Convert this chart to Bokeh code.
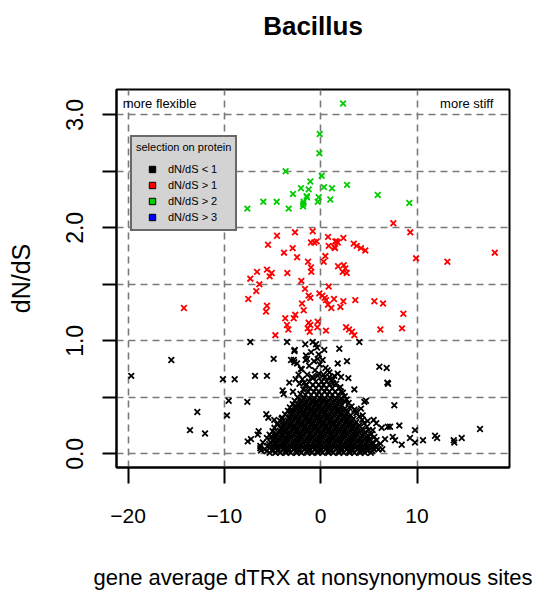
from bokeh.plotting import figure
from bokeh.models import (Range1d, FixedTicker, Label, CustomJSTickFormatter,
                          Legend, LegendItem, Title)
from bokeh.embed import file_html
from bokeh.resources import INLINE

# ---------------- data ----------------
green_x = [2.32, -0.10, -0.14, -3.64, 0.10, -1.08, -2.05, -1.25, 0.34, 1.17, 2.73, -2.88, -1.42,
           -0.21, 1.00, -1.77, -0.31, -1.84, -5.96, -4.57, -7.62, -3.32, 5.92, 9.20, -1.46, -1.81]
green_y = [3.10, 2.83, 2.66, 2.50, 2.46, 2.41, 2.35, 2.34, 2.36, 2.35, 2.38, 2.30, 2.27,
           2.27, 2.25, 2.23, 2.23, 2.19, 2.23, 2.23, 2.17, 2.17, 2.29, 2.22, 2.28, 2.21]

red_x = [-4.54, -2.67, -0.83, -5.47, -1.01, -0.66, -0.42, 0.76, 1.66, 2.35, 0.83, 1.49, -2.91,
         -3.81, -2.46, 0.48, 0.31, -1.32, -1.01, -0.98, 1.80, 2.39, 2.55, 2.28, 2.70, -5.58,
         -5.09, -5.30, -6.61, -7.31, -3.47, -6.37, -6.69, -7.52, -2.01, -1.63, -1.25, -1.08,
         -0.14, 0.17, 0.42, 0.55, 0.83, 1.38, 2.35, 2.04, 0.76, 1.10, -1.94, -1.77, -5.58,
         -5.68, -3.68, -3.50, -2.80, -2.64, -1.25, -1.08, -1.35, -1.14, -0.31, -0.35, -3.36,
         0.55, -4.71, 2.63, 2.94, 7.54, 9.30, 9.90, 13.15, 18.07, 1.52, 1.77, 1.41, 3.43, 3.74,
         4.18, 4.63, 3.59, 5.57, 6.47, 8.58, 8.44, 6.19, 3.25, 3.49, -14.20]
red_y = [1.93, 1.96, 1.97, 1.85, 1.87, 1.87, 1.88, 1.92, 1.88, 1.91, 1.84, 1.82, 1.82,
         1.78, 1.74, 1.75, 1.70, 1.70, 1.65, 1.61, 1.66, 1.67, 1.64, 1.61, 1.60, 1.63,
         1.60, 1.57, 1.61, 1.55, 1.60, 1.50, 1.44, 1.37, 1.53, 1.46, 1.40, 1.38,
         1.42, 1.40, 1.38, 1.36, 1.48, 1.37, 1.35, 1.30, 1.32, 1.29, 1.33, 1.27, 1.31,
         1.26, 1.20, 1.14, 1.20, 1.23, 1.16, 1.14, 1.11, 1.08, 1.17, 1.12, 1.10,
         1.09, 1.05, 1.12, 1.10, 2.04, 1.96, 1.73, 1.70, 1.78, 1.88, 1.87, 1.83, 1.86, 1.84,
         1.82, 1.80, 1.36, 1.35, 1.33, 1.24, 1.11, 1.10, 1.08, 1.05, 1.29]

# scattered black points (dN/dS < 1)
black_x = [-7.31, -15.51, -19.67, -10.15, -8.93, -6.82, -5.58, -4.88, -9.55, -7.62, -9.73, -12.81,
           -13.57, -12.01, -7.58, -7.24, -6.54, -6.44, -6.27, -6.27, -5.58, -5.44, -5.65, -4.82,
           -4.05, -3.95, -3.84, -3.26, -2.88, -3.50, -2.70, -2.80, -2.46, -1.97, -1.60, -1.56,
           -1.70, 4.01, 1.93, 2.73, 1.77, 6.09, 6.85, 6.92, 6.99, 3.49, 2.11, 2.87, 1.77, 4.53,
           4.70, 7.64, 5.50, 5.77, 6.33, 6.96, 7.20, 8.16, 9.79, 6.68, 7.48, 7.72, 8.41, 9.27,
           9.79, 10.62, 11.87, 12.08, 13.81, 13.87, 14.64, 16.54, -2.74, -3.08, -2.74, -2.05,
           -1.53, -1.42, -0.38, -0.31, -0.83, -0.49, 0.37, 0.73, 1.41, 1.07, 2.04, 2.11, 2.45,
           2.97, 3.67, 4.18, 4.36, 4.88, 5.40, 5.57, 5.40, -3.08, -2.39, -3.78, -4.47, -5.16,
           -4.64, -3.78, -2.2, -1.9, -1.4, -0.9, -0.6, -0.2, 0.4, 0.9, 1.3, -1.2, -0.7, -0.1,
           0.5, -1.0, -0.2, 0.2, -2.3, -2.6, -1.6]
black_y = [0.99, 0.83, 0.69, 0.66, 0.66, 0.69, 0.69, 0.84, 0.47, 0.46, 0.34, 0.37,
           0.21, 0.18, 0.11, 0.13, 0.17, 0.20, 0.07, 0.05, 0.14, 0.32, 0.35, 0.30,
           0.31, 0.56, 0.53, 0.63, 0.55, 0.99, 0.92, 0.83, 0.80, 0.75, 0.97, 0.83,
           0.63, 0.99, 0.93, 0.82, 0.80, 0.77, 0.76, 0.63, 0.62, 0.57, 0.68, 0.67, 0.71, 0.46,
           0.47, 0.43, 0.30, 0.27, 0.23, 0.24, 0.24, 0.25, 0.21, 0.13, 0.15, 0.12, 0.08, 0.14,
           0.10, 0.12, 0.16, 0.14, 0.12, 0.10, 0.14, 0.22, 0.91, 0.83, 0.81, 0.75,
           0.87, 0.84, 0.94, 0.84, 0.99, 0.97, 0.92, 0.74, 0.69, 0.65, 0.59, 0.55, 0.47,
           0.41, 0.38, 0.40, 0.34, 0.29, 0.21, 0.15, 0.09, 0.38, 0.44, 0.21, 0.27, 0.15,
           0.09, 0.04, 0.62, 0.66, 0.70, 0.68, 0.74, 0.71, 0.68, 0.72, 0.62, 0.78, 0.82, 0.79,
           0.76, 0.90, 0.88, 0.83, 0.70, 0.66, 0.60]

# the dense black cloud around dTRX = 0, read row by row (dN/dS level, dTRX values)
cloud_levels = [0.01, 0.04, 0.07, 0.10, 0.13, 0.16, 0.19, 0.22, 0.25, 0.28, 0.31,
                0.34, 0.37, 0.40, 0.43, 0.46, 0.49, 0.52, 0.55, 0.58, 0.61, 0.64]
cloud_rows = [
    [-5.3, -4.7, -4.2, -3.6, -3.1, -2.5, -2.0, -1.4, -0.9, -0.3, 0.2, 0.8, 1.3, 1.9, 2.4, 3.0, 3.5, 4.1, 4.6, 5.2],
    [-5.8, -5.0, -4.4, -3.9, -3.3, -2.8, -2.2, -1.7, -1.1, -0.6, 0.0, 0.5, 1.1, 1.6, 2.2, 2.7, 3.3, 3.8, 4.4, 4.9, 5.5, 6.0],
    [-5.5, -4.9, -4.3, -3.8, -3.2, -2.6, -2.1, -1.5, -1.0, -0.4, 0.1, 0.7, 1.2, 1.8, 2.3, 2.9, 3.4, 4.0, 4.5, 5.1, 5.7],
    [-5.2, -4.6, -4.0, -3.5, -2.9, -2.4, -1.8, -1.3, -0.7, -0.2, 0.4, 0.9, 1.5, 2.0, 2.6, 3.1, 3.7, 4.2, 4.8, 5.4],
    [-4.9, -4.3, -3.7, -3.2, -2.6, -2.1, -1.5, -1.0, -0.4, 0.1, 0.7, 1.2, 1.8, 2.3, 2.9, 3.4, 4.0, 4.6, 5.1],
    [-4.7, -4.0, -3.4, -2.9, -2.3, -1.8, -1.2, -0.7, -0.1, 0.4, 1.0, 1.5, 2.1, 2.6, 3.2, 3.7, 4.3, 4.9],
    [-4.4, -3.8, -3.2, -2.6, -2.1, -1.5, -1.0, -0.4, 0.1, 0.7, 1.2, 1.8, 2.4, 2.9, 3.5, 4.0, 4.6],
    [-4.1, -3.5, -2.9, -2.4, -1.8, -1.3, -0.7, -0.2, 0.4, 0.9, 1.5, 2.0, 2.6, 3.2, 3.7, 4.3],
    [-3.9, -3.2, -2.7, -2.1, -1.6, -1.0, -0.5, 0.1, 0.6, 1.2, 1.7, 2.3, 2.9, 3.4, 4.0],
    [-3.6, -3.0, -2.4, -1.9, -1.3, -0.8, -0.2, 0.3, 0.9, 1.4, 2.0, 2.6, 3.1, 3.7],
    [-3.3, -2.7, -2.2, -1.6, -1.1, -0.5, 0.0, 0.6, 1.1, 1.7, 2.3, 2.8, 3.4],
    [-3.1, -2.5, -1.9, -1.4, -0.8, -0.3, 0.3, 0.8, 1.4, 2.0, 2.5, 3.1],
    [-2.8, -2.2, -1.7, -1.1, -0.6, 0.0, 0.5, 1.1, 1.7, 2.2, 2.8],
    [-2.6, -2.0, -1.4, -0.9, -0.3, 0.2, 0.8, 1.4, 1.9, 2.5],
    [-2.3, -1.7, -1.2, -0.6, -0.1, 0.5, 1.0, 1.6, 2.2],
    [-2.1, -1.5, -0.9, -0.4, 0.2, 0.7, 1.3, 1.9],
    [-1.8, -1.2, -0.7, -0.1, 0.4, 1.0, 1.6, 2.1],
    [-1.6, -1.0, -0.4, 0.1, 0.7, 1.2, 1.8],
    [-1.3, -0.7, -0.2, 0.4, 0.9, 1.5],
    [-1.1, -0.5, 0.1, 0.6, 1.2],
    [-0.8, -0.2, 0.3, 0.9],
    [-0.5, 0.1, 0.6],
]
# more of the same cloud, between the rows above
cloud_levels_b = [0.025, 0.055, 0.085, 0.115, 0.145, 0.175, 0.205, 0.235, 0.265,
                  0.295, 0.325, 0.355, 0.385, 0.415, 0.445, 0.475]
cloud_rows_b = [
    [-5.6, -5.0, -4.45, -3.65, -3.35, -2.55, -2.25, -1.45, -1.15, -0.35, -0.05, 0.75, 1.05, 1.85, 2.15, 2.95, 3.25, 4.05, 4.35, 4.85, 5.35],
    [-5.3, -4.65, -4.15, -3.55, -3.05, -2.45, -1.95, -1.35, -0.85, -0.25, 0.3, 0.85, 1.35, 1.95, 2.45, 3.05, 3.55, 4.15, 4.65, 5.25, 5.8],
    [-5.35, -4.75, -4.15, -3.65, -3.05, -2.45, -1.95, -1.35, -0.85, -0.25, 0.25, 0.85, 1.35, 1.95, 2.45, 3.05, 3.55, 4.15, 4.65, 5.25],
    [-4.95, -4.45, -3.85, -3.35, -2.75, -2.25, -1.65, -1.15, -0.55, -0.05, 0.55, 1.05, 1.65, 2.15, 2.75, 3.25, 3.85, 4.35, 4.95],
    [-4.75, -4.15, -3.55, -3.05, -2.45, -1.95, -1.35, -0.85, -0.25, 0.25, 0.85, 1.35, 1.95, 2.45, 3.05, 3.55, 4.15, 4.75],
    [-4.55, -3.95, -3.3, -2.75, -2.2, -1.65, -1.1, -0.55, 0.0, 0.55, 1.1, 1.65, 2.25, 2.75, 3.35, 3.85, 4.45],
    [-4.25, -3.65, -3.05, -2.5, -1.95, -1.4, -0.85, -0.3, 0.25, 0.8, 1.35, 1.9, 2.5, 3.05, 3.6, 4.15],
    [-4.0, -3.35, -2.8, -2.25, -1.7, -1.15, -0.6, -0.05, 0.5, 1.05, 1.6, 2.15, 2.75, 3.3, 3.85],
    [-3.75, -3.1, -2.55, -2.0, -1.45, -0.9, -0.35, 0.2, 0.75, 1.3, 1.85, 2.45, 3.0, 3.55],
    [-3.45, -2.85, -2.3, -1.75, -1.2, -0.65, -0.1, 0.45, 1.0, 1.55, 2.15, 2.7, 3.25],
    [-3.2, -2.6, -2.05, -1.5, -0.95, -0.4, 0.15, 0.7, 1.25, 1.85, 2.4, 2.95],
    [-2.95, -2.35, -1.8, -1.25, -0.7, -0.15, 0.4, 0.95, 1.55, 2.1, 2.65],
    [-2.7, -2.1, -1.55, -1.0, -0.45, 0.1, 0.65, 1.25, 1.8, 2.35],
    [-2.45, -1.85, -1.3, -0.75, -0.2, 0.35, 0.9, 1.5, 2.05],
    [-2.2, -1.6, -1.05, -0.5, 0.05, 0.6, 1.15, 1.75],
    [-1.95, -1.35, -0.8, -0.25, 0.3, 0.85, 1.45, 2.0],
]
# points along the rounded edge of the cloud
edge_x = [-5.3, -5.0, -4.8, 5.2, 5.0, 4.8, -4.5, -4.2, -4.0, 4.5, 4.3, 4.0, -3.7, -3.4, -3.2,
          3.7, 3.5, 3.2, -2.9, -2.7, -2.4, 2.9, 2.7, 2.5, -2.1, -1.8, 2.3, 1.9, -1.5, 1.6,
          -1.2, 1.3, -0.8, 0.9, -0.3, 0.3, 5.8, 6.2, 6.4, -6.0, -6.2]
edge_y = [0.17, 0.20, 0.23, 0.17, 0.21, 0.24, 0.26, 0.29, 0.32, 0.27, 0.30, 0.33, 0.35, 0.38, 0.41,
          0.36, 0.39, 0.42, 0.44, 0.47, 0.50, 0.45, 0.48, 0.51, 0.53, 0.57, 0.54, 0.58, 0.61, 0.62,
          0.64, 0.66, 0.67, 0.68, 0.69, 0.70, 0.12, 0.09, 0.04, 0.10, 0.03]

x_grid = [-20, -10, 0, 10]
y_grid = [0.0, 0.5, 1.0, 1.5, 2.0, 2.5, 3.0]
legend_labels = ["dN/dS < 1", "dN/dS > 1", "dN/dS > 2", "dN/dS > 3"]
legend_colors = ["#000000", "#ff0000", "#00cd00", "#0000ff"]

# ---------------- figure ----------------
FONT = "Liberation Sans"

cloud_x, cloud_y = list(edge_x), list(edge_y)
for lvls, rows in ((cloud_levels, cloud_rows), (cloud_levels_b, cloud_rows_b)):
    for lvl, row in zip(lvls, rows):
        cloud_x.extend(row)
        cloud_y.extend([lvl] * len(row))

p = figure(width=534, height=595, output_backend="svg", toolbar_location=None,
           x_range=Range1d(-21.2, 19.6), y_range=Range1d(-0.121, 3.224),
           min_border_left=116, min_border_right=25, min_border_top=89, min_border_bottom=128,
           background_fill_color="white", border_fill_color="white")

# title: a blank spacer next to the frame, then the title text above it
p.title = None
p.add_layout(Title(text=" ", text_font=FONT, text_font_size="10px", standoff=36), "above")
p.add_layout(Title(text="Bacillus", text_font=FONT, text_font_size="26px",
                   text_font_style="bold", text_color="black", align="center",
                   standoff=0), "above")

p.outline_line_color = "black"
p.outline_line_width = 2
p.outline_line_alpha = 1

for g, t in ((p.xgrid, x_grid), (p.ygrid, y_grid)):
    g.ticker = FixedTicker(ticks=t)
    g.grid_line_color = "#7a7a7a"
    g.grid_line_width = 1.6
    g.grid_line_dash = "7 5"

xa = p.xaxis[0]
ya = p.yaxis[0]
xa.ticker = FixedTicker(ticks=x_grid)
ya.ticker = FixedTicker(ticks=y_grid)
xa.formatter = CustomJSTickFormatter(code="return tick < 0 ? '\u2212' + Math.abs(tick) : String(tick);")
ya.formatter = CustomJSTickFormatter(code="return (Math.abs(tick % 1) < 1e-9) ? tick.toFixed(1) : '';")
for ax in (xa, ya):
    ax.axis_line_color = "black"
    ax.axis_line_width = 2
    ax.major_tick_line_color = "black"
    ax.major_tick_line_width = 2
    ax.major_tick_in = 0
    ax.minor_tick_line_color = None
    ax.major_label_text_font = FONT
    ax.major_label_text_color = "black"
    ax.axis_label_text_font = FONT
    ax.axis_label_text_font_style = "normal"
    ax.axis_label_text_color = "black"
xa.major_tick_out = 16
ya.major_tick_out = 14
xa.major_label_text_font_size = "21px"
ya.major_label_text_font_size = "23px"
ya.major_label_orientation = "vertical"
xa.major_label_standoff = 25
ya.major_label_standoff = 19
xa.axis_label = "gene average dTRX at nonsynonymous sites"
ya.axis_label = "dN/dS"
xa.axis_label_text_font_size = "22px"
ya.axis_label_text_font_size = "25px"
xa.axis_label_standoff = 39
ya.axis_label_standoff = 29

mk = dict(marker="x", size=8, line_width=1.8)
p.scatter(cloud_x, cloud_y, line_color="#000000", **mk)
p.scatter(black_x, black_y, line_color="#000000", **mk)
p.scatter(red_x, red_y, line_color="#ff0000", **mk)
p.scatter(green_x, green_y, line_color="#00cd00", **mk)

# legend with filled squares (the glyph renderers hold no visible point)
nan = float("nan")
items = []
for lab, col in zip(legend_labels, legend_colors):
    r = p.scatter(x=[nan], y=[nan], marker="square", size=7, fill_color=col,
                  line_color="black", line_width=1)
    items.append(LegendItem(label=lab, renderers=[r]))
leg = Legend(items=items, location=(14, 236))
leg.title = "selection on protein"
leg.title_text_font = FONT
leg.title_text_font_size = "11px"
leg.title_text_font_style = "normal"
leg.title_text_color = "black"
leg.title_standoff = 8
leg.label_text_font = FONT
leg.label_text_font_size = "11px"
leg.label_text_color = "black"
leg.padding = 4
leg.margin = 0
leg.spacing = 0
leg.glyph_width = 32
leg.glyph_height = 16
leg.label_height = 16
leg.label_standoff = 0
leg.border_line_color = "black"
leg.border_line_width = 2
leg.background_fill_color = "#d3d3d3"
leg.background_fill_alpha = 1
p.add_layout(leg, "center")

p.add_layout(Label(x=-20.56, y=3.097, text="more flexible", text_font=FONT, text_color="black",
                   text_font_size="13px", text_align="left", text_baseline="middle"))
p.add_layout(Label(x=17.92, y=3.097, text="more stiff", text_font=FONT, text_color="black",
                   text_font_size="13px", text_align="right", text_baseline="middle"))

open("out.html", "w").write(file_html(p, INLINE))
